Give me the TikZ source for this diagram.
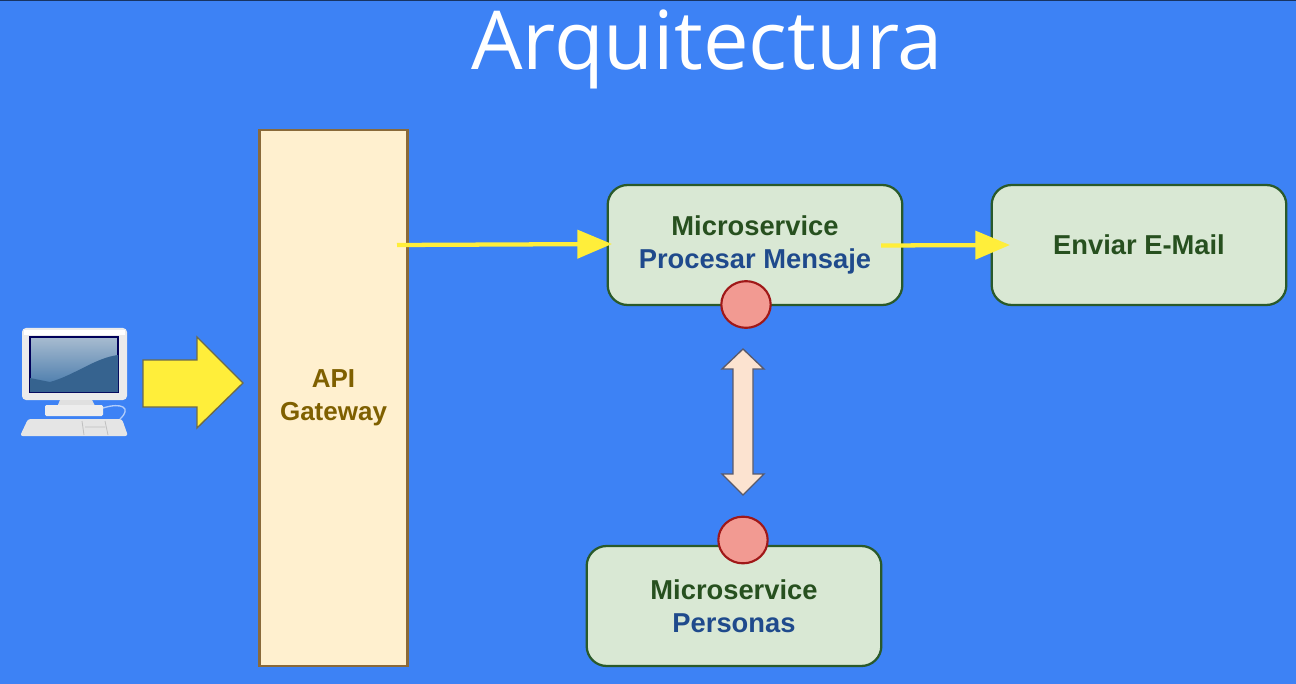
\documentclass[tikz,border=0pt]{standalone}
\usepackage{fontspec}
\usetikzlibrary{arrows.meta,shapes.geometric}
\setmainfont{Liberation Sans}
\newfontfamily\titlefont{Open Sans}
\definecolor{bg}{HTML}{3D82F5}
\definecolor{boxfill}{HTML}{D9E8D4}
\definecolor{boxline}{HTML}{2A5A2A}
\definecolor{boxtext}{HTML}{27501F}
\definecolor{bluetext}{HTML}{1F4A8C}
\definecolor{gwfill}{HTML}{FFF0CF}
\definecolor{gwline}{HTML}{8A6A3A}
\definecolor{gwtext}{HTML}{7F6000}
\definecolor{yel}{HTML}{FFEE3A}
\definecolor{portfill}{HTML}{F29A92}
\definecolor{portline}{HTML}{A01818}
\definecolor{dblfill}{HTML}{FCE3D0}
\definecolor{dblline}{HTML}{5A5A6A}
\definecolor{scrtop}{HTML}{A8BCD0}
\definecolor{scrbot}{HTML}{3F74A8}
\tikzset{
  svc/.style={draw=boxline,line width=1.7pt,fill=boxfill,rounded corners=15pt,minimum width=221pt,minimum height=90pt,inner sep=0pt,align=center,font=\bfseries\fontsize{20.5}{25}\selectfont,text=boxtext},
  port/.style={ellipse,draw=portline,line width=1.6pt,fill=portfill,minimum width=37pt,minimum height=35pt,inner sep=0pt},
  thinarrow/.style={draw=yel,line width=3.2pt,-{Triangle[length=26pt,width=21pt,fill=yel]}},
}
\begin{document}
\begin{tikzpicture}[x=0.75pt,y=-0.75pt]
\useasboundingbox (0,0) rectangle (1296,684);
\fill[bg] (0,0) rectangle (1296,684);
\fill[black!60!bg] (0,0) rectangle (1296,1);
\node[font=\titlefont\fontsize{61}{70}\selectfont,text=white,anchor=base,inner sep=0pt] (title) at (707,70) {Arquitectura};
\node[draw=gwline,line width=1.8pt,fill=gwfill,minimum width=111pt,minimum height=402pt,inner sep=0pt,align=center,font=\bfseries\fontsize{19.5}{24.5}\selectfont,text=gwtext] (gw) at (333.5,398) {API\\Gateway};
\node[svc] (proc) at (755,245) {Microservice\\{\color{bluetext}Procesar Mensaje}};
\node[svc] (mail) at (1139,245) {Enviar E-Mail};
\node[svc] (pers) at (734,606) {Microservice\\{\color{bluetext}Personas}};
\node[port] (p1) at (746,304.5) {};
\node[port] (p2) at (743,540) {};
\coordinate (a1) at (397,245);
\coordinate (a2) at (612,244);
\coordinate (b1) at (881,245.5);
\coordinate (b2) at (1010,245);
\draw[thinarrow] (a1) -- (a2);
\draw[thinarrow] (b1) -- (b2);
% block arrow
\draw[draw=black!65!yellow,line width=1pt,fill=yel,line join=miter] (143,360) -- (197,360) -- (197,337) -- (243,383) -- (197,428) -- (197,407) -- (143,407) -- cycle;
% double arrow
\draw[draw=dblline,line width=1pt,fill=dblfill] (743,349) -- (764,369) -- (753,369) -- (753,474) -- (764,474) -- (743,495) -- (722,474) -- (733,474) -- (733,369) -- (722,369) -- cycle;
% computer
\fill[white!92!black,rounded corners=3pt] (22,328) rectangle (127,400);
\fill[white] (24,330) rectangle (125,335);
\shade[top color=scrtop,bottom color=scrbot,draw=blue!35!black,line width=.8pt] (30,337) rectangle (118,392);
\fill[scrbot!85!black] (50,382) .. controls (75,375) and (95,358) .. (118,355) -- (118,392) -- (30,392) -- (30,378) -- cycle;
\fill[black!12] (60,400) -- (92,400) -- (98,412) -- (55,412) -- cycle;
\fill[white!93!black,rounded corners=1pt] (45,405) rectangle (103,416);
\fill[white!90!black,rounded corners=2pt] (28,419) -- (122,419) -- (128,436) -- (20,436) -- cycle;
\draw[white!60!bg,line width=1pt] (103,408) .. controls (122,402) and (132,408) .. (120,419);
\draw[black!25,line width=.6pt] (82,421) -- (84,435) (105,421) -- (108,435) (85,427) -- (105,427);
\end{tikzpicture}
\end{document}
